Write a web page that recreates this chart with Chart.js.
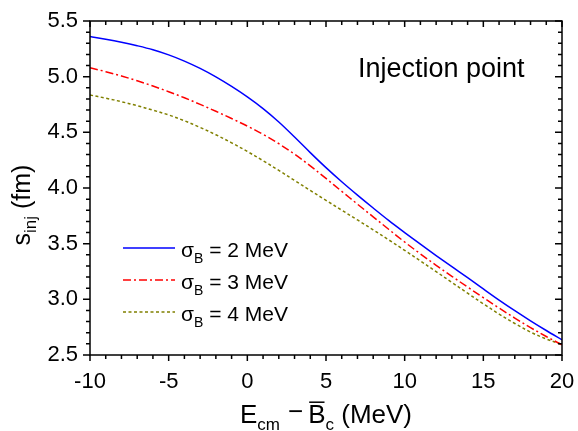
<!DOCTYPE html>
<html>
<head>
<meta charset="utf-8">
<script src="https://cdn.jsdelivr.net/npm/chart.js@4.4.1/dist/chart.umd.min.js"></script>
<style>
  html, body { margin: 0; padding: 0; background: #fff; }
</style>
</head>
<body>
<canvas id="chart" width="578" height="431"></canvas>
<script>
// E_cm - B_c (MeV)
const energies = [-10, -9, -8, -7, -6, -5, -4, -3, -2, -1, 0, 1, 2, 3, 4, 5, 6, 7, 8, 9, 10,
                  11, 12, 13, 14, 15, 16, 17, 18, 19, 20];
// s_inj (fm) for sigma_B = 2, 3, 4 MeV
const sInj2 = [5.36, 5.336, 5.309, 5.278, 5.242, 5.196, 5.14, 5.074, 4.998, 4.912, 4.818, 4.713, 4.593, 4.458, 4.318,
               4.183, 4.056, 3.936, 3.82, 3.707, 3.60, 3.495, 3.393, 3.293, 3.195, 3.093, 2.993, 2.898, 2.807, 2.72, 2.636];
const sInj3 = [5.08, 5.045, 5.006, 4.963, 4.916, 4.865, 4.81, 4.751, 4.689, 4.624, 4.556, 4.482, 4.398, 4.304, 4.199,
               4.086, 3.97, 3.855, 3.741, 3.627, 3.515, 3.408, 3.306, 3.207, 3.11, 3.015, 2.922, 2.832, 2.746, 2.666, 2.591];
const sInj4 = [4.835, 4.807, 4.775, 4.739, 4.699, 4.656, 4.604, 4.544, 4.478, 4.406, 4.328, 4.245, 4.158, 4.068, 3.978,
               3.889, 3.801, 3.713, 3.624, 3.533, 3.44, 3.345, 3.249, 3.152, 3.055, 2.96, 2.868, 2.783, 2.706, 2.644, 2.594];
const sigmaValues = ['2', '3', '4'];

const FONT = '"Liberation Sans", Arial, sans-serif';

const styles = [
    { color: '#0000ff', dash: [] },
    { color: '#ff0000', dash: [8, 3, 2, 3] },
    { color: '#808000', dash: [3, 2.5] }
];

function toPoints(ys) {
    return energies.map((x, i) => ({ x: x, y: ys[i] }));
}

// draws text made of parts with different sizes / offsets (subscripts)
function drawRich(ctx, parts, x, y, align) {
    let w = 0;
    parts.forEach(p => {
        ctx.font = p.s + 'px ' + FONT;
        w += ctx.measureText(p.t).width + (p.gap || 0);
    });
    let cx = align === 'center' ? x - w / 2 : (align === 'right' ? x - w : x);
    ctx.textAlign = 'left';
    ctx.textBaseline = 'alphabetic';
    parts.forEach(p => {
        ctx.font = p.s + 'px ' + FONT;
        const tw = ctx.measureText(p.t).width;
        ctx.fillText(p.t, cx, y + (p.dy || 0));
        if (p.bar) {
            ctx.beginPath();
            ctx.lineWidth = 1.5;
            ctx.moveTo(cx + 1, y - p.s * 0.8);
            ctx.lineTo(cx + tw - 1, y - p.s * 0.8);
            ctx.stroke();
        }
        cx += tw + (p.gap || 0);
    });
}

const framePlugin = {
    id: 'frame',
    afterDatasetsDraw(chart) {
        const ctx = chart.ctx;
        const a = chart.chartArea;
        const xs = chart.scales.x;
        const ys = chart.scales.y;
        ctx.save();
        ctx.strokeStyle = '#000';
        ctx.fillStyle = '#000';
        ctx.lineWidth = 1.5;
        ctx.setLineDash([]);

        // box
        ctx.strokeRect(a.left, a.top, a.right - a.left, a.bottom - a.top);

        // ticks: outward on left/bottom, inward on top/right
        ctx.beginPath();
        for (let i = 0; i <= 30; i++) {
            const v = -10 + i;
            const px = xs.getPixelForValue(v);
            const len = (v % 5 === 0) ? 6 : 4;
            ctx.moveTo(px, a.bottom); ctx.lineTo(px, a.bottom + len);
            ctx.moveTo(px, a.top); ctx.lineTo(px, a.top + len);
        }
        for (let i = 0; i <= 30; i++) {
            const v = 2.5 + i * 0.1;
            const py = ys.getPixelForValue(v);
            const len = (i % 5 === 0) ? 7 : 4;
            ctx.moveTo(a.left, py); ctx.lineTo(a.left - len, py);
            ctx.moveTo(a.right, py); ctx.lineTo(a.right - len, py);
        }
        ctx.stroke();

        // axis titles
        const mid = (a.left + a.right) / 2;
        drawRich(ctx, [
            { t: 'E', s: 26 },
            { t: 'cm', s: 17, dy: 7, gap: 8 },
            { t: '\u2212', s: 26, dy: -3, gap: 5 },
            { t: 'B', s: 26, bar: true },
            { t: 'c', s: 17, dy: 7 },
            { t: ' (MeV)', s: 26 }
        ], mid, 423, 'center');

        ctx.save();
        ctx.translate(30, 205);
        ctx.rotate(-Math.PI / 2);
        drawRich(ctx, [
            { t: 's', s: 25 },
            { t: 'inj', s: 17, dy: 6 },
            { t: ' (fm)', s: 25 }
        ], 0, 0, 'center');
        ctx.restore();

        // annotation
        ctx.font = '27px ' + FONT;
        ctx.textAlign = 'left';
        ctx.textBaseline = 'alphabetic';
        ctx.fillText('Injection point', 358, 77);

        // legend
        const rows = [248, 280, 312];
        chart.data.datasets.forEach((ds, i) => {
            const y = rows[i];
            ctx.beginPath();
            ctx.strokeStyle = ds.borderColor;
            ctx.lineWidth = 1.5;
            ctx.setLineDash(ds.borderDash);
            ctx.moveTo(123, y);
            ctx.lineTo(175, y);
            ctx.stroke();
            ctx.setLineDash([]);
            ctx.strokeStyle = '#000';
            drawRich(ctx, [
                { t: '\u03c3', s: 21 },
                { t: 'B', s: 14, dy: 6 },
                { t: ' = ' + sigmaValues[i] + ' MeV', s: 21 }
            ], 181, y + 8.5, 'left');
        });
        ctx.restore();
    }
};

const datasets = [sInj2, sInj3, sInj4].map((ys, i) => ({
    label: '\u03c3B = ' + sigmaValues[i] + ' MeV',
    data: toPoints(ys),
    borderColor: styles[i].color,
    borderDash: styles[i].dash,
    borderWidth: 1.5,
    pointRadius: 0,
    tension: 0.35,
    fill: false
}));

new Chart(document.getElementById('chart'), {
    type: 'line',
    data: { datasets: datasets },
    options: {
        responsive: false,
        animation: false,
        layout: { padding: { top: 21, right: 16, left: 0, bottom: 0 } },
        plugins: {
            legend: { display: false },
            tooltip: { enabled: false }
        },
        scales: {
            x: {
                type: 'linear',
                min: -10,
                max: 20,
                grid: { display: false, drawTicks: false },
                border: { display: false },
                ticks: {
                    stepSize: 5,
                    color: '#000',
                    padding: 14,
                    maxRotation: 0,
                    font: { size: 22, family: FONT }
                },
                afterFit: s => {
                    s.height = 76;
                    s.paddingLeft = 0;
                    s.paddingRight = 0;
                }
            },
            y: {
                min: 2.5,
                max: 5.5,
                grid: { display: false, drawTicks: false },
                border: { display: false },
                ticks: {
                    stepSize: 0.5,
                    color: '#000',
                    padding: 12,
                    font: { size: 22, family: FONT },
                    callback: v => v.toFixed(1)
                },
                afterFit: s => {
                    s.width = 90;
                    s.paddingTop = 0;
                    s.paddingBottom = 0;
                }
            }
        }
    },
    plugins: [framePlugin]
});
</script>
</body>
</html>
